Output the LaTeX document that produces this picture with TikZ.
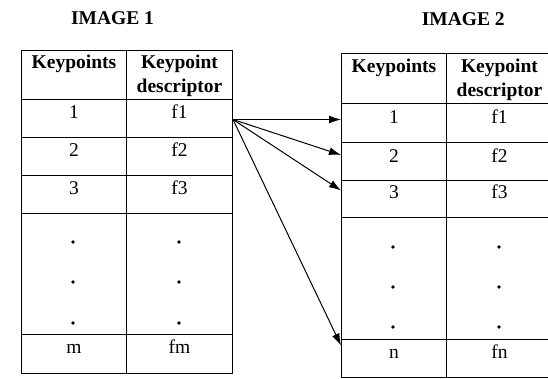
\documentclass[tikz,border=0pt]{standalone}
\usepackage{fontspec}
\setmainfont{Liberation Serif}
\usetikzlibrary{arrows.meta}

\begin{document}
\begin{tikzpicture}[x=1pt, y=-1pt,
    font=\fontsize{19.5}{24}\selectfont,
    cell/.style={draw, line width=1pt, inner sep=0pt, anchor=north west,
        align=center, text height=19pt, text depth=19pt},
    kcol/.style={cell, text width=105pt},
    dcol/.style={cell, text width=106pt},
    hdr/.style={font=\fontsize{19.5}{24}\selectfont\bfseries},
    match/.style={line width=1pt, -{Latex[length=12pt, width=8pt]}}]
    \useasboundingbox (0,0) rectangle (548,379);

    \node[hdr, anchor=base] (title1) at (112.5,25) {IMAGE 1};
    \node[hdr, anchor=base] (title2) at (463.3,25.5) {IMAGE 2};

    \node[kcol, hdr, text height=18pt, text depth=31pt] (l0k) at (21,50) {Keypoints};
    \node[dcol, hdr, text height=18pt, text depth=31pt] (l0d) at (126,50) {Keypoint\\descriptor};
    \node[kcol] (l1k) at (21,99) {1};
    \node[dcol] (l1d) at (126,99) {f1};
    \node[kcol] (l2k) at (21,137) {2};
    \node[dcol] (l2d) at (126,137) {f2};
    \node[kcol] (l3k) at (21,175) {3};
    \node[dcol] (l3d) at (126,175) {f3};
    \node[kcol, text height=121pt, text depth=0pt] (l4k) at (21,213) {};
    \node[dcol, text height=121pt, text depth=0pt] (l4d) at (126,213) {};
    \node[kcol, text depth=20pt] (l5k) at (21,334) {m};
    \node[dcol, text depth=20pt] (l5d) at (126,334) {fm};

    \node[kcol, hdr, text height=19pt, text depth=31pt] (r0k) at (341,53) {Keypoints};
    \node[dcol, hdr, text height=19pt, text depth=31pt] (r0d) at (446,53) {Keypoint\\descriptor};
    \node[kcol, text height=20pt] (r1k) at (341,103) {1};
    \node[dcol, text height=20pt] (r1d) at (446,103) {f1};
    \node[kcol, text height=20pt, text depth=18pt] (r2k) at (341,142) {2};
    \node[dcol, text height=20pt, text depth=18pt] (r2d) at (446,142) {f2};
    \node[kcol, text height=18pt] (r3k) at (341,180) {3};
    \node[dcol, text height=18pt] (r3d) at (446,180) {f3};
    \node[kcol, text height=122pt, text depth=0pt] (r4k) at (341,217) {};
    \node[dcol, text height=122pt, text depth=0pt] (r4d) at (446,217) {};
    \node[kcol] (r5k) at (341,339) {n};
    \node[dcol] (r5d) at (446,339) {fn};

    \foreach \y in {242,282,323} {
        \fill (73,\y) circle (1.8);
        \fill (179,\y) circle (1.8);
    }
    \foreach \y in {247,287,327} {
        \fill (393,\y) circle (1.8);
        \fill (499,\y) circle (1.8);
    }

    \draw[match] ([yshift=-1pt]l1d.east) -- ([yshift=3.5pt]r1k.west);
    \draw[match] ([yshift=-1pt]l1d.east) -- ([yshift=6.5pt]r2k.west);
    \draw[match] ([yshift=-1pt]l1d.east) -- ([yshift=8.5pt]r3k.west);
    \draw[match] ([yshift=-1pt]l1d.east) -- ([yshift=13pt]r5k.west);
\end{tikzpicture}
\end{document}
